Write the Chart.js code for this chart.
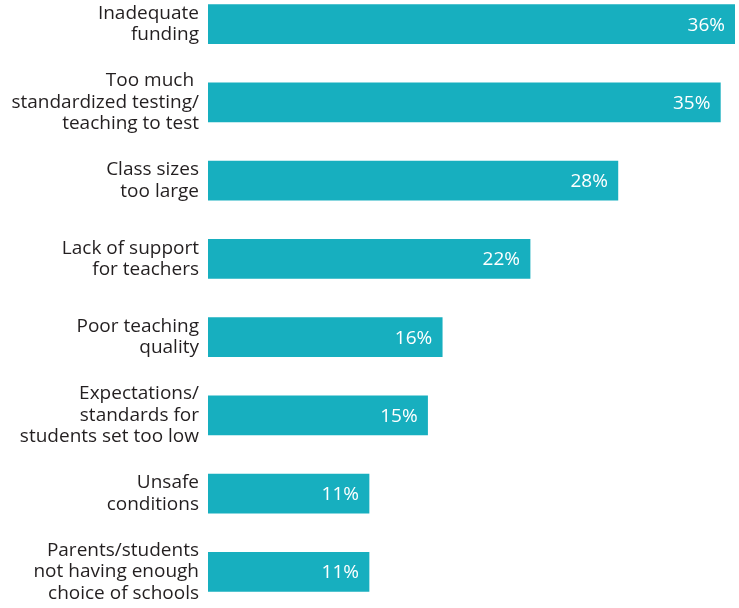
<!DOCTYPE html>
<html>
<head>
<meta charset="utf-8">
<script src="https://cdn.jsdelivr.net/npm/chart.js@4.4.1/dist/chart.umd.min.js"></script>
<style>
    html, body { margin: 0; padding: 0; background: #fff; overflow: hidden; }
    #wrap { position: absolute; left: 0; top: -15px; width: 739px; height: 626px; }
</style>
</head>
<body>
<div id="wrap"><canvas id="barChart"></canvas></div>
<script>
// Dados do gráfico
const categories = [
    ['Inadequate', 'funding'],
    ['Too much ', 'standardized testing/', 'teaching to test'],
    ['Class sizes', 'too large'],
    ['Lack of support', 'for teachers'],
    ['Poor teaching', 'quality'],
    ['Expectations/', 'standards for', 'students set too low'],
    ['Unsafe', 'conditions'],
    ['Parents/students', 'not having enough', 'choice of schools']
];
const percentValues = [36, 35, 28, 22, 16, 15, 11, 11];

const barColor = '#17AFBF';
const textColor = '#231F20';

// Plugin simples para escrever o valor dentro da barra
const valueLabels = {
    id: 'valueLabels',
    afterDatasetsDraw(chart) {
        const ctx = chart.ctx;
        const meta = chart.getDatasetMeta(0);
        ctx.save();
        ctx.font = '19px "Open Sans"';
        ctx.fillStyle = '#ffffff';
        ctx.textAlign = 'right';
        ctx.textBaseline = 'middle';
        meta.data.forEach((bar, i) => {
            ctx.fillText(percentValues[i] + '%', bar.x - 10, bar.y + 1);
        });
        ctx.restore();
    }
};

const ctx = document.getElementById('barChart').getContext('2d');
const barChart = new Chart(ctx, {
    type: 'bar',
    data: {
        labels: categories,
        datasets: [{
            data: percentValues,
            backgroundColor: barColor,
            barThickness: 39
        }]
    },
    options: {
        indexAxis: 'y',
        responsive: true,
        maintainAspectRatio: false,
        animation: false,
        layout: { padding: { left: 0, right: 4, top: 0, bottom: 0 } },
        plugins: {
            legend: { display: false },
            tooltip: { enabled: false }
        },
        scales: {
            x: {
                min: 0,
                max: 36,
                display: false
            },
            y: {
                grid: { display: false, drawTicks: false },
                border: { display: false },
                ticks: {
                    color: textColor,
                    font: { family: '"Open Sans"', size: 19, lineHeight: 1.13 },
                    padding: 9
                },
                afterFit(scale) {
                    scale.width = 208;
                    scale.paddingTop = 0;
                    scale.paddingBottom = 0;
                }
            }
        }
    },
    plugins: [valueLabels]
});
</script>
</body>
</html>
